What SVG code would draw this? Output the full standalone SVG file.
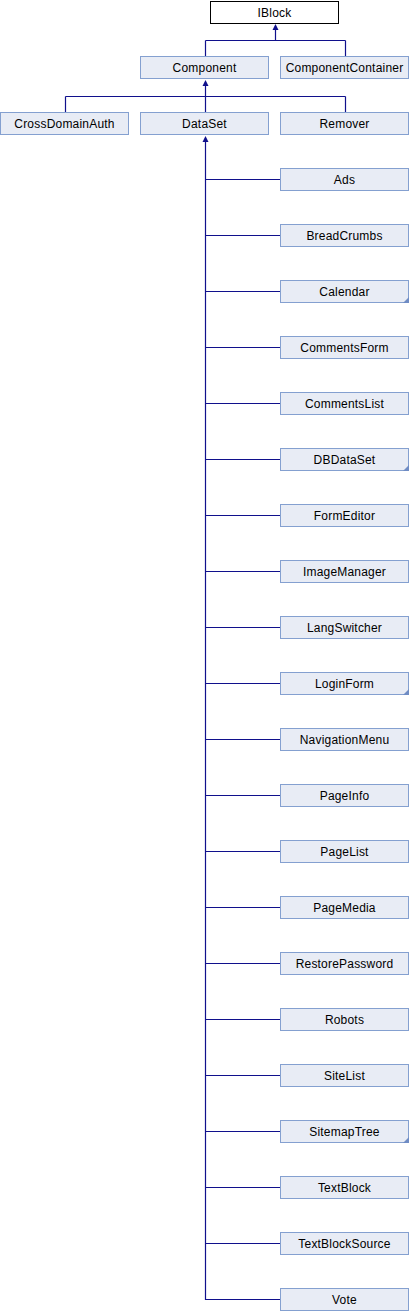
<svg xmlns="http://www.w3.org/2000/svg" width="410" height="1312" viewBox="0 0 410 1312">
<style>
.n rect{fill:#e8ecf5;stroke:#84a0d0;stroke-width:1}
.cur rect{fill:#ffffff;stroke:#000000}
.n text{font-family:"Liberation Sans",Arial,sans-serif;font-size:12px;fill:#000;text-anchor:middle;letter-spacing:0.2px}
.c{fill:none;stroke:#10108c;stroke-width:1.2}
.ah{fill:#10108c}
.more{fill:#6f8cc4}
</style>
<g id="connectors">
<path class="c" d="M275.5,26 V40.5 M205.5,40.5 H345.5 M205.5,40.5 V56 M345.5,40.5 V56"/>
<path class="ah" d="M275.5,24 L272.5,30 L278.5,30 Z"/>
<path class="c" d="M205.5,82 V112 M65.5,96.5 H345.5 M65.5,96.5 V112 M345.5,96.5 V112"/>
<path class="ah" d="M205.5,80 L202.5,86 L208.5,86 Z"/>
<path class="c" d="M205.5,138 V1299.5 H280 M205.5,179.5 H280 M205.5,235.5 H280 M205.5,291.5 H280 M205.5,347.5 H280 M205.5,403.5 H280 M205.5,459.5 H280 M205.5,515.5 H280 M205.5,571.5 H280 M205.5,627.5 H280 M205.5,683.5 H280 M205.5,739.5 H280 M205.5,795.5 H280 M205.5,851.5 H280 M205.5,907.5 H280 M205.5,963.5 H280 M205.5,1019.5 H280 M205.5,1075.5 H280 M205.5,1131.5 H280 M205.5,1187.5 H280 M205.5,1243.5 H280"/>
<path class="ah" d="M205.5,136 L202.5,142 L208.5,142 Z"/>
</g>
<g id="IBlock" class="n cur"><rect x="210.5" y="1.5" width="128" height="22"/><text x="274.5" y="17">IBlock</text></g>
<g id="Component" class="n"><rect x="140.5" y="56.5" width="128" height="22"/><text x="204.5" y="72">Component</text></g>
<g id="ComponentContainer" class="n"><rect x="280.5" y="56.5" width="128" height="22"/><text x="344.5" y="72">ComponentContainer</text></g>
<g id="CrossDomainAuth" class="n"><rect x="0.5" y="112.5" width="128" height="22"/><text x="64.5" y="128">CrossDomainAuth</text></g>
<g id="DataSet" class="n"><rect x="140.5" y="112.5" width="128" height="22"/><text x="204.5" y="128">DataSet</text></g>
<g id="Remover" class="n"><rect x="280.5" y="112.5" width="128" height="22"/><text x="344.5" y="128">Remover</text></g>
<g id="Ads" class="n"><rect x="280.5" y="168.5" width="128" height="22"/><text x="344.5" y="184">Ads</text></g>
<g id="BreadCrumbs" class="n"><rect x="280.5" y="224.5" width="128" height="22"/><text x="344.5" y="240">BreadCrumbs</text></g>
<g id="Calendar" class="n"><rect x="280.5" y="280.5" width="128" height="22"/><path class="more" d="M409,297 L409,303 L403,303 Z"/><text x="344.5" y="296">Calendar</text></g>
<g id="CommentsForm" class="n"><rect x="280.5" y="336.5" width="128" height="22"/><text x="344.5" y="352">CommentsForm</text></g>
<g id="CommentsList" class="n"><rect x="280.5" y="392.5" width="128" height="22"/><text x="344.5" y="408">CommentsList</text></g>
<g id="DBDataSet" class="n"><rect x="280.5" y="448.5" width="128" height="22"/><path class="more" d="M409,465 L409,471 L403,471 Z"/><text x="344.5" y="464">DBDataSet</text></g>
<g id="FormEditor" class="n"><rect x="280.5" y="504.5" width="128" height="22"/><text x="344.5" y="520">FormEditor</text></g>
<g id="ImageManager" class="n"><rect x="280.5" y="560.5" width="128" height="22"/><text x="344.5" y="576">ImageManager</text></g>
<g id="LangSwitcher" class="n"><rect x="280.5" y="616.5" width="128" height="22"/><text x="344.5" y="632">LangSwitcher</text></g>
<g id="LoginForm" class="n"><rect x="280.5" y="672.5" width="128" height="22"/><path class="more" d="M409,689 L409,695 L403,695 Z"/><text x="344.5" y="688">LoginForm</text></g>
<g id="NavigationMenu" class="n"><rect x="280.5" y="728.5" width="128" height="22"/><text x="344.5" y="744">NavigationMenu</text></g>
<g id="PageInfo" class="n"><rect x="280.5" y="784.5" width="128" height="22"/><text x="344.5" y="800">PageInfo</text></g>
<g id="PageList" class="n"><rect x="280.5" y="840.5" width="128" height="22"/><text x="344.5" y="856">PageList</text></g>
<g id="PageMedia" class="n"><rect x="280.5" y="896.5" width="128" height="22"/><text x="344.5" y="912">PageMedia</text></g>
<g id="RestorePassword" class="n"><rect x="280.5" y="952.5" width="128" height="22"/><text x="344.5" y="968">RestorePassword</text></g>
<g id="Robots" class="n"><rect x="280.5" y="1008.5" width="128" height="22"/><text x="344.5" y="1024">Robots</text></g>
<g id="SiteList" class="n"><rect x="280.5" y="1064.5" width="128" height="22"/><text x="344.5" y="1080">SiteList</text></g>
<g id="SitemapTree" class="n"><rect x="280.5" y="1120.5" width="128" height="22"/><path class="more" d="M409,1137 L409,1143 L403,1143 Z"/><text x="344.5" y="1136">SitemapTree</text></g>
<g id="TextBlock" class="n"><rect x="280.5" y="1176.5" width="128" height="22"/><text x="344.5" y="1192">TextBlock</text></g>
<g id="TextBlockSource" class="n"><rect x="280.5" y="1232.5" width="128" height="22"/><text x="344.5" y="1248">TextBlockSource</text></g>
<g id="Vote" class="n"><rect x="280.5" y="1288.5" width="128" height="22"/><text x="344.5" y="1304">Vote</text></g>
</svg>
